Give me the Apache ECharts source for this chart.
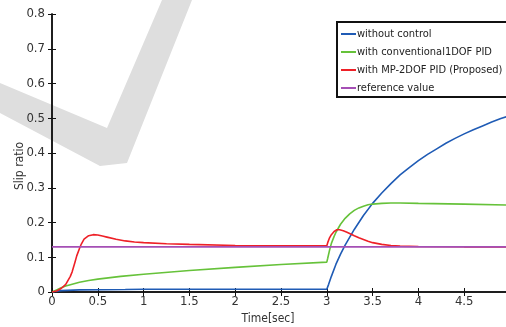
<!DOCTYPE html>
<html>
<head>
<meta charset="utf-8">
<script src="https://cdn.jsdelivr.net/npm/echarts@6/dist/echarts.min.js"></script>
<style>
  html, body { margin: 0; padding: 0; background: #fff; }
  #chart { width: 506px; height: 327px; }
</style>
</head>
<body>
<div id="chart"></div>
<script>
const FONT = "'DejaVu Sans Condensed', 'Liberation Sans', sans-serif";

// without control
const blueT = [0, 0.1, 0.3, 0.8, 1, 2, 3, 3.02, 3.05, 3.1, 3.15, 3.2, 3.3, 3.4, 3.5, 3.6, 3.7, 3.8, 3.9, 4.0, 4.1, 4.2, 4.3, 4.4, 4.5, 4.6, 4.7, 4.8, 4.9, 5.0];
const blueV = [0, 0.004, 0.006, 0.007, 0.008, 0.008, 0.008, 0.022, 0.045, 0.08, 0.109, 0.135, 0.18, 0.22, 0.255, 0.285, 0.312, 0.337, 0.358, 0.378, 0.396, 0.412, 0.428, 0.442, 0.455, 0.467, 0.478, 0.489, 0.499, 0.508];

// conventional 1DOF PID
const greenT = [0, 0.05, 0.1, 0.15, 0.2, 0.3, 0.4, 0.5, 0.75, 1, 1.5, 2, 2.5, 3, 3.01, 3.03, 3.05, 3.08, 3.1, 3.15, 3.2, 3.25, 3.3, 3.35, 3.4, 3.45, 3.5, 3.6, 3.7, 3.8, 4, 4.5, 5];
const greenV = [0, 0.006, 0.012, 0.017, 0.021, 0.028, 0.033, 0.037, 0.045, 0.051, 0.062, 0.071, 0.079, 0.086, 0.097, 0.12, 0.14, 0.16, 0.172, 0.195, 0.212, 0.225, 0.235, 0.242, 0.247, 0.251, 0.253, 0.255, 0.256, 0.256, 0.255, 0.253, 0.25];

// MP-2DOF PID (proposed)
const redT = [0, 0.05, 0.1, 0.15, 0.2, 0.22, 0.25, 0.27, 0.3, 0.32, 0.35, 0.37, 0.4, 0.45, 0.5, 0.55, 0.6, 0.7, 0.8, 0.9, 1, 1.25, 1.5, 2, 2.5, 3, 3.01, 3.03, 3.05, 3.08, 3.11, 3.14, 3.18, 3.22, 3.26, 3.3, 3.35, 3.4, 3.45, 3.5, 3.6, 3.7, 3.8, 4, 4.5, 5];
const redV = [0, 0.003, 0.01, 0.022, 0.045, 0.058, 0.085, 0.104, 0.125, 0.138, 0.152, 0.157, 0.162, 0.165, 0.164, 0.161, 0.158, 0.152, 0.147, 0.144, 0.142, 0.139, 0.137, 0.134, 0.133, 0.133, 0.142, 0.156, 0.165, 0.174, 0.179, 0.179, 0.176, 0.172, 0.167, 0.162, 0.156, 0.151, 0.146, 0.142, 0.137, 0.134, 0.132, 0.131, 0.13, 0.13];

// reference value
const refT = [0, 5];
const refV = [0.13, 0.13];

const seriesNames = ["without control", "with conventional1DOF PID", "with MP-2DOF PID (Proposed)", "reference value"];
const seriesColors = ["#1f5bb5", "#66c23a", "#ee2027", "#a54fb5"];

function pairs(ts, vs) {
  return ts.map((t, i) => [t, vs[i]]);
}

const chart = echarts.init(document.getElementById("chart"));

const axisLine = { show: true, lineStyle: { color: "#111", width: 1.5 } };
const tick = { show: true, inside: true, length: 4, lineStyle: { color: "#111", width: 1 } };
const lineStyle = { width: 1.6 };

chart.setOption({
  animation: false,
  textStyle: { fontFamily: FONT },
  grid: { left: 52, top: 14, right: -4, bottom: 35, containLabel: false, outerBoundsMode: "none" },
  graphic: [
    {
      type: "polygon",
      z: -10,
      shape: { points: [[0, 83], [107, 128], [162, 0], [192, 0], [127, 163], [100, 166], [0, 113]] },
      style: { fill: "#dedede" }
    }
  ],
  legend: {
    orient: "vertical",
    left: 337,
    top: 22,
    itemWidth: 15,
    itemHeight: 2,
    itemGap: 4,
    padding: [5, 30, 2, 4],
    backgroundColor: "#fff",
    borderColor: "#111",
    borderWidth: 2,
    borderRadius: 0,
    icon: "rect",
    textStyle: { fontFamily: FONT, fontSize: 11, lineHeight: 14, color: "#222", padding: [0, 0, 0, -4] },
    data: seriesNames
  },
  xAxis: [
    {
      type: "value", min: 0, max: 5, interval: 0.5,
      name: "Time[sec]", nameLocation: "middle", nameGap: 21,
      nameTextStyle: { fontFamily: FONT, fontSize: 12, color: "#333", padding: [0, 26, 0, 0] },
      axisLine, axisTick: tick, splitLine: { show: false },
      axisLabel: { fontFamily: FONT, fontSize: 13, color: "#333", margin: 3, formatter: (v) => (v >= 5 ? "" : String(v)) }
    },
    {
      type: "value", min: 0, max: 5, interval: 0.5, position: "top",
      axisLine, axisTick: tick, splitLine: { show: false }, axisLabel: { show: false }
    }
  ],
  yAxis: [
    {
      type: "value", min: 0, max: 0.8, interval: 0.1,
      name: "Slip ratio", nameLocation: "middle", nameGap: 26, nameMoveOverlap: false,
      nameTextStyle: { fontFamily: FONT, fontSize: 12, color: "#333", padding: [0, 26, 0, 0] },
      axisLine, axisTick: tick, splitLine: { show: false },
      axisLabel: { fontFamily: FONT, fontSize: 13, color: "#333", margin: 7, formatter: (v) => String(Math.round(v * 10) / 10) }
    },
    {
      type: "value", min: 0, max: 0.8, interval: 0.1, position: "right",
      axisLine, axisTick: tick, splitLine: { show: false }, axisLabel: { show: false }
    }
  ],
  series: [
    { name: seriesNames[0], type: "line", data: pairs(blueT, blueV), color: seriesColors[0], showSymbol: false, lineStyle },
    { name: seriesNames[1], type: "line", data: pairs(greenT, greenV), color: seriesColors[1], showSymbol: false, lineStyle },
    { name: seriesNames[2], type: "line", data: pairs(redT, redV), color: seriesColors[2], showSymbol: false, lineStyle },
    { name: seriesNames[3], type: "line", data: pairs(refT, refV), color: seriesColors[3], showSymbol: false, lineStyle }
  ]
});
</script>
</body>
</html>
